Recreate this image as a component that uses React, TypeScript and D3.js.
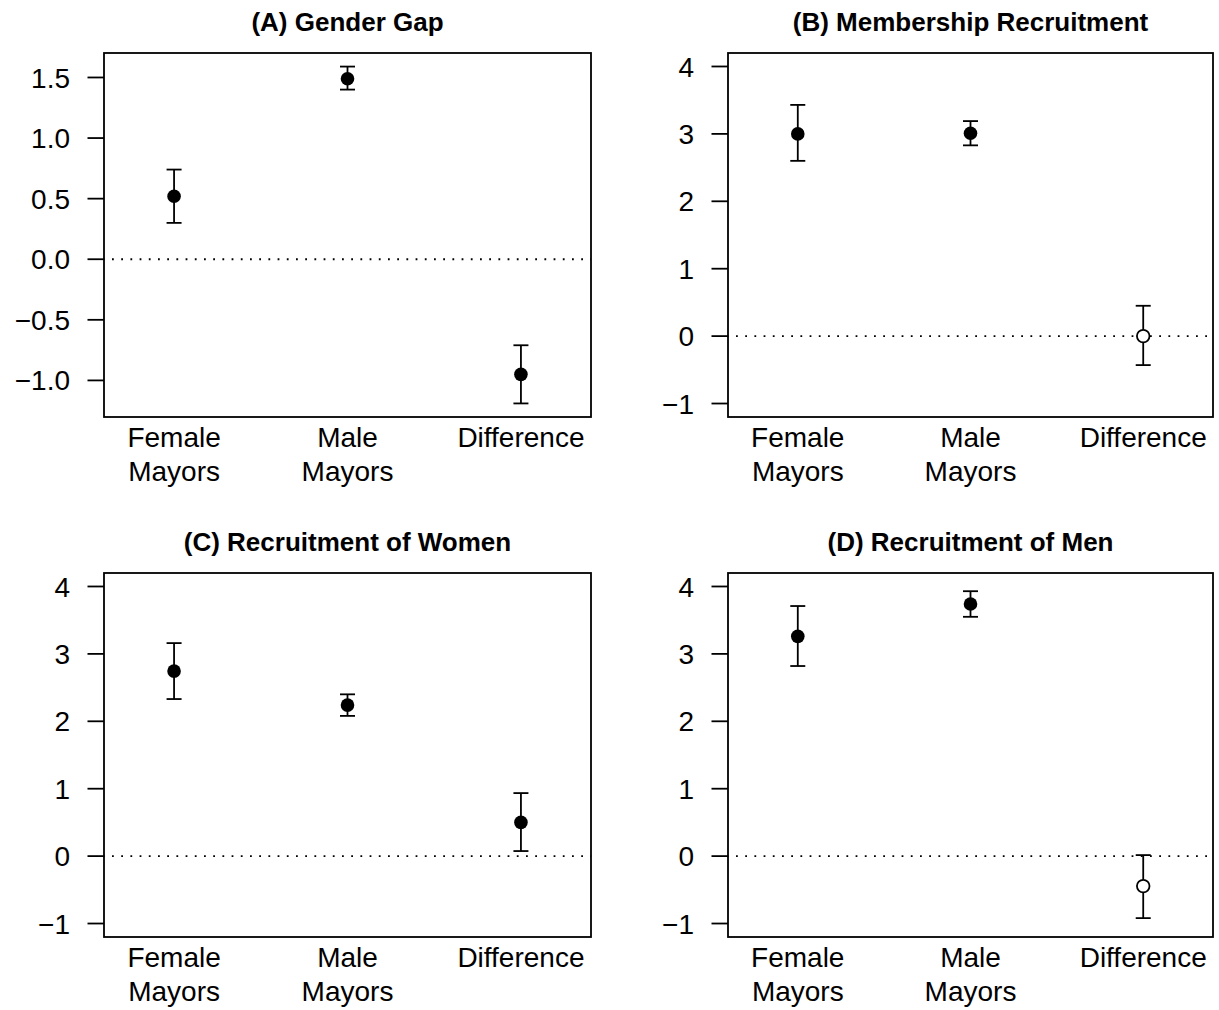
import React from "react";
import * as d3 from "d3";

const categories = ["Female\nMayors", "Male\nMayors", "Difference"];

const panelTitles = [
  "(A) Gender Gap",
  "(B) Membership Recruitment",
  "(C) Recruitment of Women",
  "(D) Recruitment of Men",
];

// estimates
const estA = [0.52, 1.49, -0.95];
const lowA = [0.30, 1.40, -1.19];
const highA = [0.74, 1.59, -0.71];

const estB = [3.0, 3.01, 0.0];
const lowB = [2.60, 2.83, -0.43];
const highB = [3.43, 3.19, 0.45];

const estC = [2.745, 2.24, 0.50];
const lowC = [2.33, 2.08, 0.075];
const highC = [3.16, 2.40, 0.935];

const estD = [3.26, 3.74, -0.445];
const lowD = [2.82, 3.55, -0.92];
const highD = [3.71, 3.93, 0.015];

// significant (filled) or not (hollow)
const filledA = [true, true, true];
const filledB = [true, true, false];
const filledC = [true, true, true];
const filledD = [true, true, false];

const ticksA = [-1.0, -0.5, 0.0, 0.5, 1.0, 1.5];
const ticksBCD = [-1, 0, 1, 2, 3, 4];

const W = 1219;
const H = 1010;
const FONT = "'Liberation Sans', Arial, Helvetica, sans-serif";

type PanelDef = {
  title: string;
  est: number[];
  low: number[];
  high: number[];
  filled: boolean[];
  ticks: number[];
  fmt: (v: number) => string;
  ydom: [number, number];
  box: { x0: number; x1: number; y0: number; y1: number };
};

const cols = [
  [104, 591],
  [728, 1213],
];
const rows = [
  [53, 417],
  [573, 937],
];

const fmt1 = d3.format(".1f");
const fmt0 = d3.format("d");

const panels: PanelDef[] = [
  { title: panelTitles[0], est: estA, low: lowA, high: highA, filled: filledA, ticks: ticksA, fmt: fmt1, ydom: [-1.302, 1.702], box: { x0: cols[0][0], x1: cols[0][1], y0: rows[0][0], y1: rows[0][1] } },
  { title: panelTitles[1], est: estB, low: lowB, high: highB, filled: filledB, ticks: ticksBCD, fmt: fmt0, ydom: [-1.2, 4.2], box: { x0: cols[1][0], x1: cols[1][1], y0: rows[0][0], y1: rows[0][1] } },
  { title: panelTitles[2], est: estC, low: lowC, high: highC, filled: filledC, ticks: ticksBCD, fmt: fmt0, ydom: [-1.2, 4.2], box: { x0: cols[0][0], x1: cols[0][1], y0: rows[1][0], y1: rows[1][1] } },
  { title: panelTitles[3], est: estD, low: lowD, high: highD, filled: filledD, ticks: ticksBCD, fmt: fmt0, ydom: [-1.2, 4.2], box: { x0: cols[1][0], x1: cols[1][1], y0: rows[1][0], y1: rows[1][1] } },
];

const LW = 1.8;

function Panel({ p }: { p: PanelDef }) {
  const { box } = p;
  const x = d3.scaleLinear().domain([0.596, 3.404]).range([box.x0, box.x1]);
  const y = d3.scaleLinear().domain(p.ydom).range([box.y1, box.y0]);
  const cx = (box.x0 + box.x1) / 2;
  const cap = 7.5;
  return (
    <g>
      <text x={cx} y={box.y0 - 22} textAnchor="middle" fontFamily={FONT} fontWeight="bold" fontSize={26} fill="#000">
        {p.title}
      </text>
      {/* zero reference line */}
      <line x1={box.x0} x2={box.x1} y1={y(0)} y2={y(0)} stroke="#000" strokeWidth={1.8} strokeDasharray="1.8 7.4" strokeDashoffset={-8} />
      {/* y axis ticks */}
      {p.ticks.map((t) => (
        <g key={t}>
          <line x1={box.x0 - 16.5} x2={box.x0} y1={y(t)} y2={y(t)} stroke="#000" strokeWidth={LW} />
          <text x={box.x0 - 34} y={y(t)} dy="0.36em" textAnchor="end" fontFamily={FONT} fontSize={28} fill="#000">
            {p.fmt(t)}
          </text>
        </g>
      ))}
      {/* x labels */}
      {categories.map((c, i) =>
        c.split("\n").map((line, j) => (
          <text key={i + "-" + j} x={x(i + 1)} y={box.y1 + 30 + j * 34} textAnchor="middle" fontFamily={FONT} fontSize={28} fill="#000">
            {line}
          </text>
        ))
      )}
      {/* error bars */}
      {p.est.map((e, i) => {
        const px = x(i + 1);
        return (
          <g key={"e" + i}>
            <line x1={px} x2={px} y1={y(p.low[i])} y2={y(p.high[i])} stroke="#000" strokeWidth={LW} />
            <line x1={px - cap} x2={px + cap} y1={y(p.low[i])} y2={y(p.low[i])} stroke="#000" strokeWidth={LW} />
            <line x1={px - cap} x2={px + cap} y1={y(p.high[i])} y2={y(p.high[i])} stroke="#000" strokeWidth={LW} />
            {p.filled[i] ? (
              <circle cx={px} cy={y(e)} r={6.8} fill="#000" />
            ) : (
              <circle cx={px} cy={y(e)} r={6.3} fill="#fff" stroke="#000" strokeWidth={1.8} />
            )}
          </g>
        );
      })}
      <rect x={box.x0} y={box.y0} width={box.x1 - box.x0} height={box.y1 - box.y0} fill="none" stroke="#000" strokeWidth={LW} />
    </g>
  );
}

export default function App() {
  return (
    <svg width={W} height={H} style={{ position: "absolute", left: 0, top: 0, background: "#fff" }}>
      <rect x={0} y={0} width={W} height={H} fill="#fff" />
      {panels.map((p, i) => (
        <Panel key={i} p={p} />
      ))}
    </svg>
  );
}
